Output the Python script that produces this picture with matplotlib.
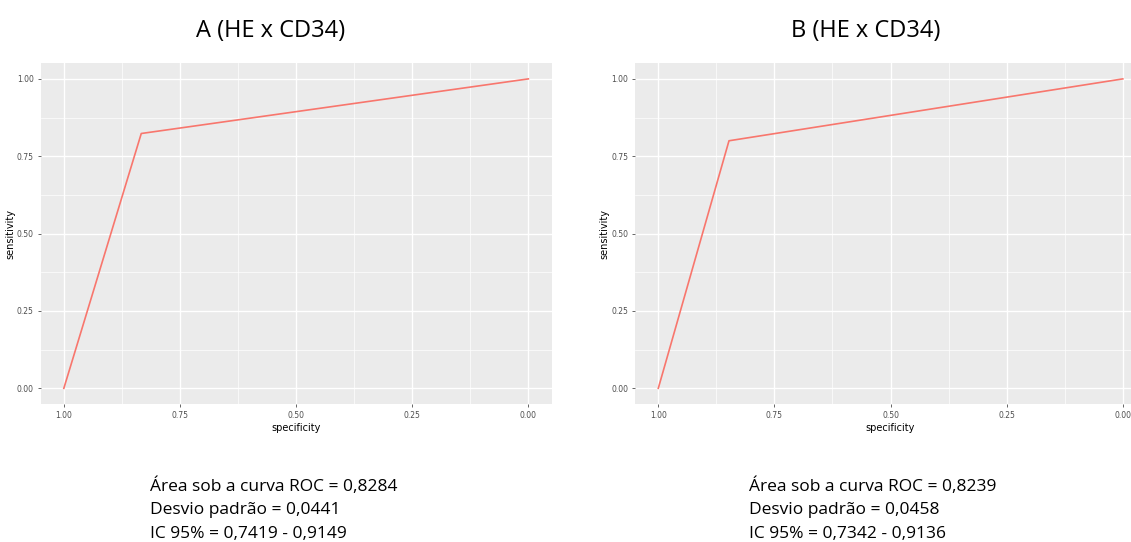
import matplotlib.pyplot as plt
from matplotlib.ticker import MultipleLocator

# ROC points (specificity, sensitivity) for the two comparisons
spec_a = [1.0, 0.8333, 0.0]
sens_a = [0.0, 0.8235, 1.0]
spec_b = [1.0, 0.8478, 0.0]
sens_b = [0.0, 0.80, 1.0]

titles = ["A (HE x CD34)", "B (HE x CD34)"]
stats_a = ["Área sob a curva ROC = 0,8284", "Desvio padrão = 0,0441", "IC 95% = 0,7419 - 0,9149"]
stats_b = ["Área sob a curva ROC = 0,8239", "Desvio padrão = 0,0458", "IC 95% = 0,7342 - 0,9136"]

ticks = [0.0, 0.25, 0.5, 0.75, 1.0]
tick_labels = ["0.00", "0.25", "0.50", "0.75", "1.00"]

fig = plt.figure(figsize=(11.31, 5.42), dpi=100)
fig.patch.set_facecolor("white")

def gg_roc(ax, spec, sens):
    ax.set_facecolor("#EBEBEB")
    ax.plot(spec, sens, color="#F8766D", lw=1.2, zorder=3)
    ax.set_xlim(1.05, -0.05)
    ax.set_ylim(-0.05, 1.05)
    ax.set_xticks(ticks)
    ax.set_xticklabels(tick_labels)
    ax.set_yticks(ticks)
    ax.set_yticklabels(tick_labels)
    ax.xaxis.set_minor_locator(MultipleLocator(0.125))
    ax.yaxis.set_minor_locator(MultipleLocator(0.125))
    ax.grid(which="major", color="white", lw=1.0, zorder=1)
    ax.grid(which="minor", color="white", lw=0.5, zorder=1)
    ax.set_axisbelow(True)
    for s in ax.spines.values():
        s.set_visible(False)
    ax.tick_params(which="major", length=2.5, width=0.6, color="#4D4D4D",
                   labelsize=5.5, labelcolor="#4D4D4D", pad=2.5)
    ax.tick_params(which="minor", length=0)
    ax.set_xlabel("specificity", fontsize=7, labelpad=2)
    ax.set_ylabel("sensitivity", fontsize=7, labelpad=1)

ax1 = fig.add_axes([0.0359, 0.255, 0.4518, 0.628])
gg_roc(ax1, spec_a, sens_a)
ax2 = fig.add_axes([0.5615, 0.255, 0.4518, 0.628])
gg_roc(ax2, spec_b, sens_b)

fig.text(0.2396, 0.943, titles[0], ha="center", va="center", fontsize=17, family="Open Sans")
fig.text(0.765, 0.943, titles[1], ha="center", va="center", fontsize=17, family="Open Sans")

for x0, lines in [(0.133, stats_a), (0.662, stats_b)]:
    for i, line in enumerate(lines):
        fig.text(x0, 1 - (486 + 24 * i) / 542, line, ha="left", va="center",
                 fontsize=12.5, family="Open Sans")

fig.savefig("out.png", dpi=100)
